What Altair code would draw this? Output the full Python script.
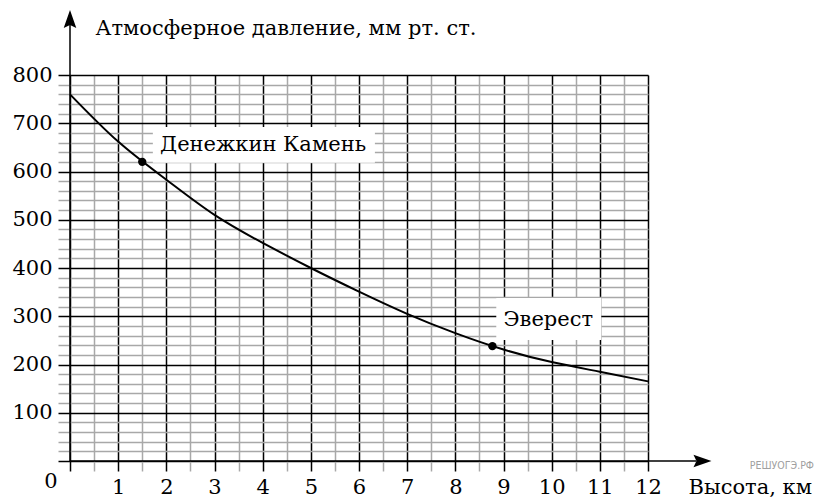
import altair as alt
import pandas as pd

# ---- data ----
height_km = [0, 1, 2, 3, 4, 5, 6, 7, 8, 9, 10, 11, 12]
pressure = [760, 662, 583, 510, 452, 400, 351, 305, 265, 231, 205, 185, 165]

peak_names = ["Денежкин Камень", "Эверест"]
peak_x = [1.5, 8.77]
peak_y = [620, 238]

# label anchors (data units) and white label boxes (data units)
label_x = [1.87, 9.0]
label_y = [655, 292]
box_x1 = [1.72, 8.85]
box_x2 = [6.33, 11.03]
box_y1 = [618, 251]
box_y2 = [692, 338]

x_ticks = [i * 0.5 for i in range(25)]
y_ticks = list(range(0, 801, 20))

FONT = "DejaVu Serif"
FS = 21

curve = pd.DataFrame({"x": height_km, "y": pressure})
peaks = pd.DataFrame({"x": peak_x, "y": peak_y, "name": peak_names})
labels = pd.DataFrame({"x": label_x, "y": label_y, "name": peak_names})
boxes = pd.DataFrame({"x": box_x1, "x2": box_x2, "y": box_y1, "y2": box_y2})

xs = alt.Scale(domain=[0, 12], nice=False, zero=False)
ys = alt.Scale(domain=[0, 800], nice=False, zero=False)

x_axis = alt.Axis(
    values=x_ticks, grid=True, domain=False,
    gridColor={"condition": {"test": "datum.value % 1 === 0", "value": "black"}, "value": "#a8a8a8"},
    gridWidth=1.5, gridOpacity=1,
    tickColor={"condition": {"test": "datum.value % 1 === 0", "value": "black"}, "value": "#a8a8a8"},
    tickSize=10, tickWidth=1.5,
    labelExpr="datum.value % 1 === 0 && datum.value > 0 ? '' + datum.value : ''",
    labelFont=FONT, labelFontSize=FS, labelColor="black",
    labelPadding=16, labelBaseline="middle", labelFlush=False, labelOverlap=False,
    title="Высота, км", titleX=618, titleY=26, titleAlign="left", titleBaseline="middle",
    titleFont=FONT, titleFontSize=FS, titleFontWeight="normal", titleColor="black",
)
y_axis = alt.Axis(
    values=y_ticks, grid=True, domain=False,
    gridColor={"condition": {"test": "datum.value % 100 === 0", "value": "black"}, "value": "#a8a8a8"},
    gridWidth=1.5, gridOpacity=1,
    tickColor={"condition": {"test": "datum.value % 100 === 0", "value": "black"}, "value": "#a8a8a8"},
    tickSize=12, tickWidth=1.5,
    labelExpr="datum.value % 100 === 0 ? '' + datum.value : ''",
    labelOffset={"condition": {"test": "datum.value === 0", "value": 20}, "value": 0},
    labelPadding={"condition": {"test": "datum.value === 0", "value": 1}, "value": 6},
    labelFont=FONT, labelFontSize=FS, labelColor="black",
    labelBaseline="middle", labelFlush=False, labelOverlap=False,
    title="Атмосферное давление, мм  рт. ст.", titleAngle=0, titleX=25, titleY=-47,
    titleAlign="left", titleBaseline="middle",
    titleFont=FONT, titleFontSize=FS, titleFontWeight="normal", titleColor="black",
)


def X(field="x"):
    return alt.X(f"{field}:Q", scale=xs, axis=x_axis)


def Y(field="y"):
    return alt.Y(f"{field}:Q", scale=ys, axis=y_axis)


line = alt.Chart(curve).mark_line(color="black", strokeWidth=2, interpolate="natural").encode(
    x=X(), y=Y(),
)

box = alt.Chart(boxes).mark_rect(color="white", opacity=1).encode(
    x=X(), x2="x2:Q", y=Y(), y2="y2:Q",
)

# axis arrows (lines along the axes, beyond the grid)
axes_lines = pd.DataFrame({"x": [0, 0], "x2": [13.0, 0], "y": [0, 0], "y2": [0, 905]})
ax_rules = alt.Chart(axes_lines).mark_rule(color="black", strokeWidth=1.5).encode(
    x=X(), x2="x2:Q", y=Y(), y2="y2:Q",
)
up_head = alt.Chart(pd.DataFrame({"x": [0], "y": [914]})).mark_point(
    shape="M0,-1L0.63,0.8L0,0.5L-0.63,0.8Z", size=400, filled=True, color="black", opacity=1
).encode(x=X(), y=Y())
right_head = alt.Chart(pd.DataFrame({"x": [13.11], "y": [0]})).mark_point(
    shape="M1,0L-0.8,-0.63L-0.5,0L-0.8,0.63Z", size=400, filled=True, color="black", opacity=1
).encode(x=X(), y=Y())

pts = alt.Chart(peaks).mark_point(filled=True, size=70, color="black", opacity=1).encode(
    x=X(), y=Y(),
)
txt = alt.Chart(labels).mark_text(align="left", baseline="middle", font=FONT, fontSize=FS, color="black").encode(
    x=X(), y=Y(), text="name:N",
)
wm = alt.Chart(pd.DataFrame({"x": [14.78], "y": [-10], "t": ["РЕШУОГЭ.РФ"]})).mark_text(
    align="center", baseline="middle", font="DejaVu Sans Condensed", fontSize=10.5, color="#a0a0a0"
).encode(x=X(), y=Y(), text="t:N")

chart = alt.layer(box, line, ax_rules, up_head, right_head, pts, txt, wm).properties(
    width=578, height=386,
    autosize=alt.AutoSizeParams(type="none"),
    padding={"left": 62, "top": 67, "right": 169, "bottom": 36},
    background="white",
).configure_view(stroke=None)

chart.save("out.html", embed_options={"renderer": "svg", "actions": False})
